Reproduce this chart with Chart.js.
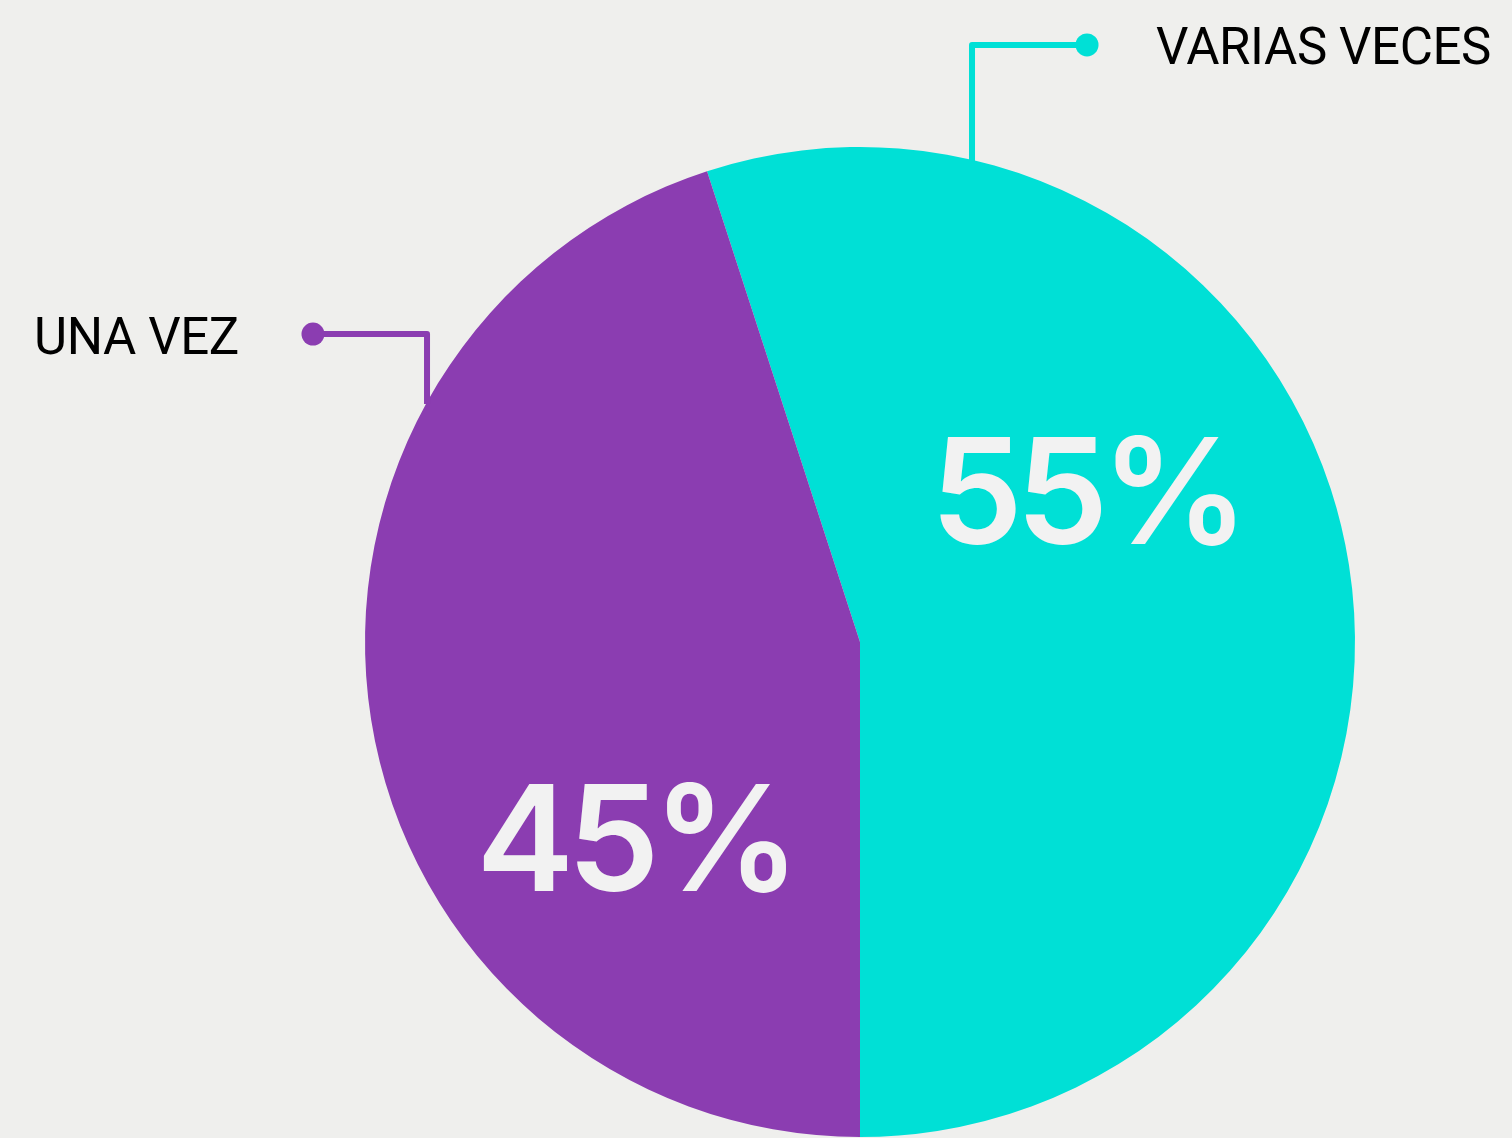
<!DOCTYPE html>
<html>
<head>
<meta charset="utf-8">
<script src="https://cdn.jsdelivr.net/npm/chart.js@4"></script>
<style>
html,body{margin:0;padding:0;background:#efefed;}
#wrap{width:1512px;height:1138px;position:relative;}
</style>
</head>
<body>
<div id="wrap"><canvas id="c" width="1512" height="1138"></canvas></div>
<script>
const categories = ['VARIAS VECES', 'UNA VEZ'];
const values = [55, 45];
const valueLabels = ['55%', '45%'];
const colors = ['#00e0d6', '#8b3db1'];

const annotate = {
  id: 'annotate',
  afterDatasetsDraw(chart) {
    const ctx = chart.ctx;
    const arc = chart.getDatasetMeta(0).data[0];
    const cx = arc.x, cy = arc.y, r = arc.outerRadius;
    // value labels
    ctx.save();
    ctx.fillStyle = '#f2f2f2';
    ctx.font = '600 147px Inter';
    ctx.letterSpacing = '-7px';
    ctx.textAlign = 'center';
    ctx.textBaseline = 'alphabetic';
    const valPos = [[cx + 0.459 * r - 1, cy - 0.198 * r], [cx - 0.459 * r + 2, cy + 0.504 * r]];
    valueLabels.forEach((t, i) => ctx.fillText(t, valPos[i][0], valPos[i][1]));
    ctx.restore();

    // connectors in radius units relative to pie centre
    const conn = [
      {vx: 0.2263, ey: -1.2061, dx: 0.4586, tx: 0.5980, ty: -1.1677},
      {vx: -0.8747, ey: -0.6222, dx: -1.1051, tx: -1.6687, ty: -0.5818}
    ];
    conn.forEach((c, i) => {
      const x = cx + c.vx * r;
      const yEdge = cy - Math.sqrt(r * r - (c.vx * r) ** 2) + 2;
      const ey = cy + c.ey * r;
      const dx = cx + c.dx * r;
      ctx.save();
      ctx.strokeStyle = colors[i];
      ctx.fillStyle = colors[i];
      ctx.lineWidth = 6;
      ctx.lineJoin = 'round';
      ctx.beginPath();
      ctx.moveTo(x, yEdge);
      ctx.lineTo(x, ey);
      ctx.lineTo(dx, ey);
      ctx.stroke();
      ctx.beginPath();
      ctx.arc(dx, ey, 11.5, 0, Math.PI * 2);
      ctx.fill();
      ctx.fillStyle = '#000';
      ctx.font = '400 51px Roboto';
      ctx.letterSpacing = '-0.4px';
      ctx.textAlign = 'left';
      ctx.textBaseline = 'alphabetic';
      ctx.fillText(categories[i], cx + c.tx * r, cy + c.ty * r);
      ctx.restore();
    });
  }
};

new Chart(document.getElementById('c'), {
  type: 'pie',
  data: {
    labels: categories,
    datasets: [{
      data: values,
      backgroundColor: colors,
      borderWidth: 0,
      hoverOffset: 0
    }]
  },
  options: {
    responsive: false,
    animation: false,
    rotation: -18,
    layout: {padding: {left: 365, right: 157, top: 147, bottom: 1}},
    plugins: {legend: {display: false}, tooltip: {enabled: false}}
  },
  plugins: [annotate]
});
</script>
</body>
</html>
